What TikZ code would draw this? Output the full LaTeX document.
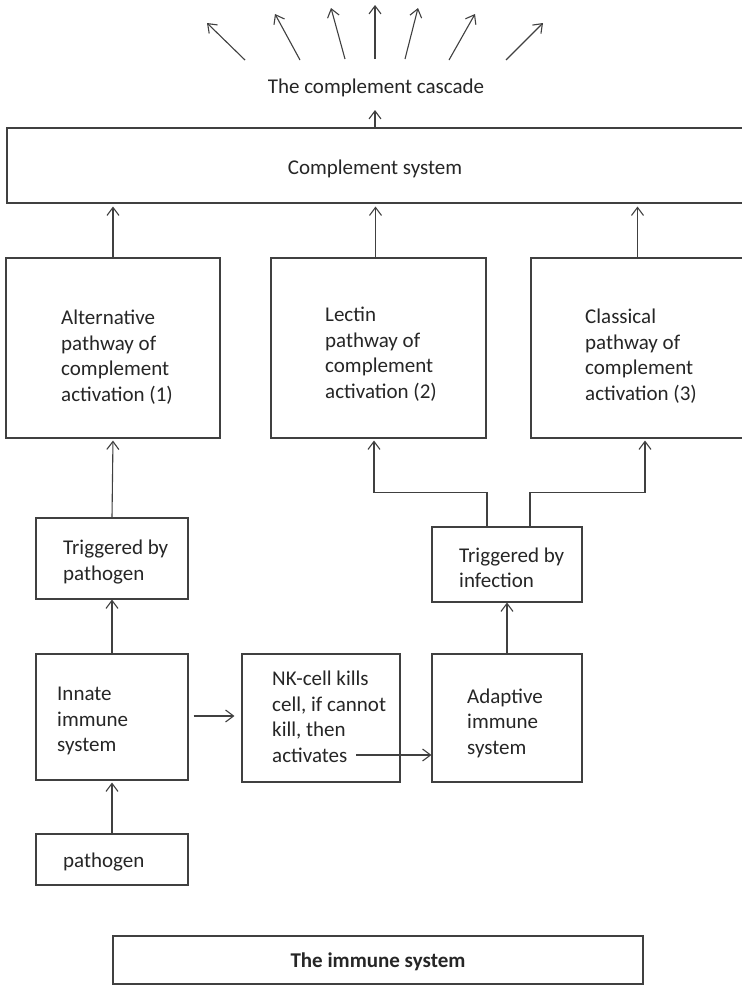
\documentclass[tikz,border=0pt]{standalone}
\usepackage{fontspec}
\setmainfont{Carlito}
\usetikzlibrary{arrows.meta}
\begin{document}
\begin{tikzpicture}[x=1pt,y=-1pt,
  box/.style={draw=black!75, line width=1.1pt, rectangle, inner sep=0pt},
  txt/.style={inner sep=0pt, align=left, anchor=west, text=black!85, font=\fontsize{21}{25.5}\selectfont},
  ctxt/.style={inner sep=0pt, align=center, text=black!85, font=\fontsize{21}{25.5}\selectfont},
  arr/.style={draw=black!75, line width=1.1pt, -{Straight Barb[length=8pt,width=12pt,line width=1.1pt]}}
]
\clip (0,0) rectangle (742,986);
\fill[white] (0,0) rectangle (742,986);

% boxes
\node[box, minimum width=761pt, minimum height=75pt] (comp) at (387.5,165.5) {};
\node[box, minimum width=214pt, minimum height=180pt] (alt) at (113,348) {};
\node[box, minimum width=215pt, minimum height=180pt] (lec) at (378.5,348) {};
\node[box, minimum width=213pt, minimum height=180pt] (cla) at (637.5,348) {};
\node[box, minimum width=152pt, minimum height=81pt] (tpa) at (112,558.5) {};
\node[box, minimum width=150pt, minimum height=75pt] (tin) at (507,564.5) {};
\node[box, minimum width=152pt, minimum height=126pt] (inn) at (112,717) {};
\node[box, minimum width=158pt, minimum height=128pt] (nk) at (321,718) {};
\node[box, minimum width=150pt, minimum height=128pt] (adp) at (507,718) {};
\node[box, minimum width=152pt, minimum height=51pt] (pat) at (112,859.5) {};
\node[box, line width=1.8pt, minimum width=530pt, minimum height=48pt] (imm) at (378,960) {};

% texts
\node[ctxt] (casc) at (376,87.5) {The complement cascade};
\node[ctxt] (compT) at (375,168.5) {Complement system};
\node[txt] (altT) at (61,357) {Alternative\\pathway of\\complement\\activation (1)};
\node[txt] (lecT) at (325,354) {Lectin\\pathway of\\complement\\activation (2)};
\node[txt] (claT) at (585,356) {Classical\\pathway of\\complement\\activation (3)};
\node[txt] (tpaT) at (63,562) {Triggered by\\pathogen};
\node[txt] (tinT) at (459,568) {Triggered by\\infection};
\node[txt] (innT) at (57,721) {Innate\\immune\\system};
\node[txt] (nkT) at (272,717) {NK-cell kills\\cell, if cannot\\kill, then\\activates};
\node[txt] (adpT) at (467,723) {Adaptive\\immune\\system};
\node[txt] (patT) at (63,862.5) {pathogen};
\node[ctxt, font=\fontsize{21}{25.5}\selectfont\bfseries] (immT) at (378,962) {The immune system};

% fan of arrows
\coordinate (c1s) at (245,60); \coordinate (c1e) at (207,23);
\coordinate (c2s) at (300,60); \coordinate (c2e) at (275,14);
\coordinate (c3s) at (345,59); \coordinate (c3e) at (331,8);
\coordinate (c4s) at (375,59); \coordinate (c4e) at (375,5);
\coordinate (c5s) at (405,59); \coordinate (c5e) at (418,8);
\coordinate (c6s) at (449,60); \coordinate (c6e) at (475,14);
\coordinate (c7s) at (506,60); \coordinate (c7e) at (543,23);
\foreach \i in {1,...,7} {\draw[arr] (c\i s) -- (c\i e);}

\coordinate (cu) at (375,110);
\draw[arr] (cu |- comp.north) -- (cu);

% pathways to complement system
\draw[arr, shorten >=3pt] (alt.north) -- (alt.north |- comp.south);
\draw[arr, shorten >=3pt] ([xshift=-3pt]lec.north) -- ([xshift=-3pt]lec.north |- comp.south);
\draw[arr, shorten >=3pt] (cla.north) -- (cla.north |- comp.south);

% triggers to pathways
\draw[arr, shorten >=2pt] (tpa.north) -- (alt.south);
\draw[arr, shorten >=2pt] ([xshift=-20pt]tin.north) -- ++(0,-34) -| ([xshift=-4.5pt]lec.south);
\draw[arr, shorten >=2pt] ([xshift=23pt]tin.north) -- ++(0,-34) -| ([xshift=7.5pt]cla.south);

% lower part
\draw[arr] (inn.north) -- (tpa.south);
\draw[arr] (adp.north) -- (tin.south);
\draw[arr, shorten >=2pt] (pat.north) -- (inn.south);
\draw[arr, shorten <=5pt, shorten >=7pt] ([yshift=1pt]inn.east) -- ([yshift=1pt]inn.east -| nk.west);
\coordinate (nkout) at (356,755);
\draw[arr] (nkout) -- (nkout -| adp.west);
\end{tikzpicture}
\end{document}
